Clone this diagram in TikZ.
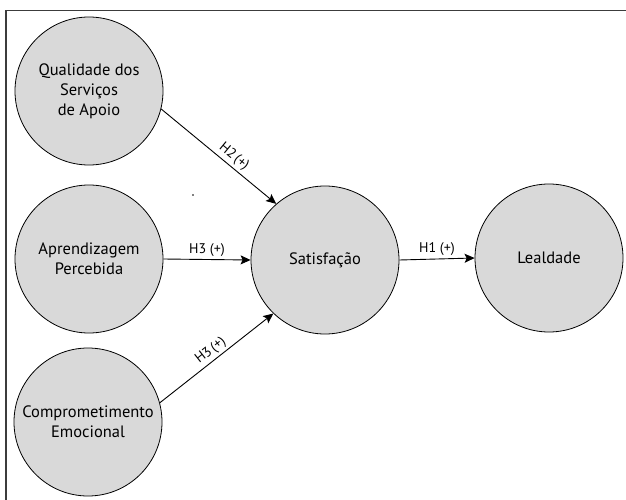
\documentclass[tikz,border=0pt]{standalone}
\usepackage{fontspec}
\setmainfont{PT Sans}
\usetikzlibrary{arrows.meta}
\begin{document}
\begin{tikzpicture}[x=1pt,y=-1pt,
  construct/.style={circle,draw=black,line width=0.8pt,fill=circfill,minimum size=148pt,inner sep=0pt,align=center,font=\fontsize{16.5}{20}\selectfont},
  link/.style={line width=0.9pt,-{Stealth[length=10pt,width=9pt,inset=2pt]}},
  hyp/.style={font=\fontsize{14}{16}\selectfont,inner sep=2.5pt}]
\definecolor{circfill}{RGB}{217,217,217}
\definecolor{framecol}{RGB}{60,60,60}
\useasboundingbox (0,0) rectangle (626,500);
\coordinate (fa) at (6,502);
\coordinate (fb) at (6,10.5);
\coordinate (fc) at (628,10.5);
\draw[framecol,line width=1.3pt] (fa) -- (fb) -- (fc);
\node[construct] (q) at (89,91) {Qualidade dos\\Serviços\\de Apoio};
\node[construct] (a) at (89,259) {Aprendizagem\\Percebida};
\node[construct] (c) at (88,422) {Comprometimento\\Emocional};
\node[construct] (s) at (325,260) {Satisfação};
\node[construct] (l) at (549,258) {Lealdade};
\fill (193,195) circle (0.8pt);
\draw[link] (q.-14) -- node[hyp,sloped,above,pos=0.58] {H2\,(+)} (s.131);
\draw[link] (a.east) -- node[hyp,above] {H3 (+)} (s.west);
\draw[link] (c.15) -- node[hyp,sloped,above,pos=0.5] {H3\,(+)} (s.226);
\draw[link] (s.east) -- node[hyp,above] {H1 (+)} (l.west);
\end{tikzpicture}
\end{document}
